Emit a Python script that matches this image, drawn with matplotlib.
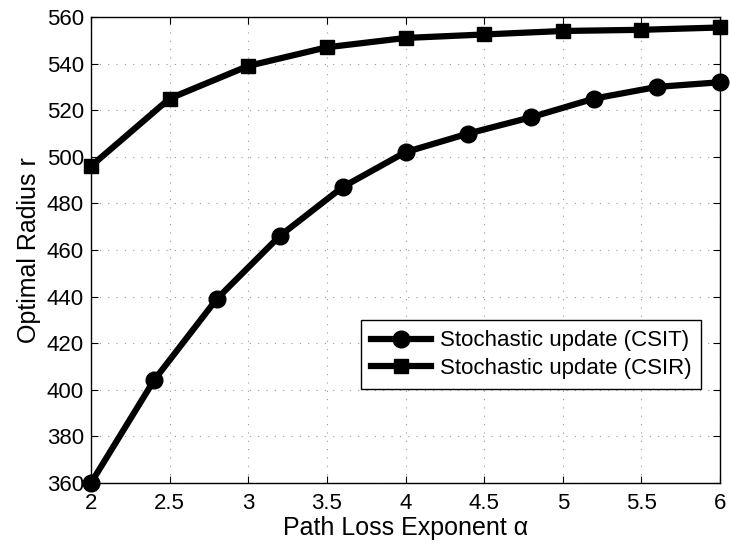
import matplotlib
matplotlib.use("Agg")
import matplotlib.pyplot as plt

plt.rcParams['font.family'] = ['Liberation Sans', 'DejaVu Sans']

alpha_csit = [2.0, 2.4, 2.8, 3.2, 3.6, 4.0, 4.4, 4.8, 5.2, 5.6, 6.0]
r_csit = [360, 404, 439, 466, 487, 502, 510, 517, 525, 530, 532]
alpha_csir = [2.0, 2.5, 3.0, 3.5, 4.0, 4.5, 5.0, 5.5, 6.0]
r_csir = [496, 525, 539, 547, 551, 552.5, 554, 554.5, 555.5]
xticks = [2, 2.5, 3, 3.5, 4, 4.5, 5, 5.5, 6]
xtick_labels = ['2', '2.5', '3', '3.5', '4', '4.5', '5', '5.5', '6']
yticks = [360, 380, 400, 420, 440, 460, 480, 500, 520, 540, 560]

fig = plt.figure(figsize=(7.3, 5.5), dpi=100)
ax = fig.add_axes([91 / 730, 1 - 483 / 550, 629 / 730, 466 / 550])

ax.plot(alpha_csit, r_csit, '-o', color='black', lw=4.5, ms=12,
        label='Stochastic update (CSIT)', clip_on=False, zorder=3)
ax.plot(alpha_csir, r_csir, '-s', color='black', lw=4.5, ms=10.5,
        label='Stochastic update (CSIR)', clip_on=False, zorder=3)

ax.set_xlim(2, 6)
ax.set_ylim(360, 560)
ax.set_xticks(xticks)
ax.set_xticklabels(xtick_labels)
ax.set_yticks(yticks)
ax.tick_params(direction='in', top=True, right=True, labelsize=16, length=5, width=0.8)
ax.tick_params(axis='x', pad=7)
ax.tick_params(axis='y', pad=5)
ax.grid(True, linestyle=(0, (1, 6.5)), color='#999999', lw=0.8)
for s in ax.spines.values():
    s.set_linewidth(1.0)

ax.set_xlabel('Path Loss Exponent \u03b1', fontsize=18, labelpad=2)
ax.set_ylabel('Optimal Radius r', fontsize=18, labelpad=4)

leg = ax.legend(loc='lower right', bbox_to_anchor=(0.970, 0.2017), fontsize=16,
                frameon=True, fancybox=False, edgecolor='black', framealpha=1,
                handlelength=2.7, borderpad=0.45, labelspacing=0.3, handletextpad=0.4,
                borderaxespad=0)
leg.get_frame().set_linewidth(1.0)

fig.savefig('out.png', dpi=100)
